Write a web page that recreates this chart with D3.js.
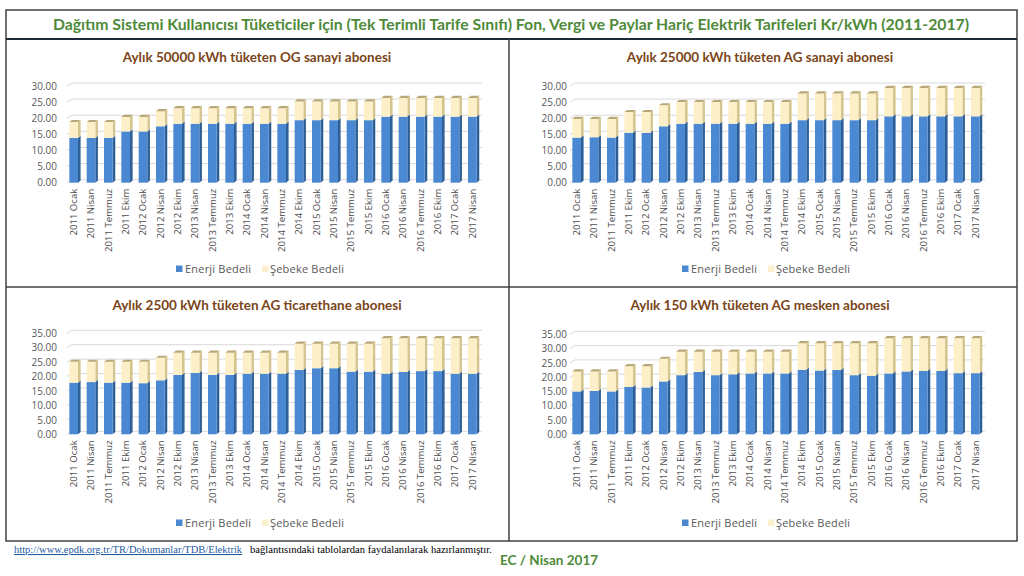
<!DOCTYPE html>
<html>
<head>
<meta charset="utf-8">
<script src="https://cdn.jsdelivr.net/npm/d3@7/dist/d3.min.js"></script>
<style>
  html, body { margin: 0; padding: 0; background: #ffffff; }
  svg { display: block; }
</style>
</head>
<body>
<script>
// ---------------- DATA ----------------
const mainTitle = "Dağıtım Sistemi Kullanıcısı Tüketiciler için (Tek Terimli Tarife Sınıfı) Fon, Vergi ve Paylar Hariç Elektrik Tarifeleri Kr/kWh (2011-2017)";
const categories = ["2011 Ocak","2011 Nisan","2011 Temmuz","2011 Ekim","2012 Ocak","2012 Nisan","2012 Ekim","2013 Nisan","2013 Temmuz","2013 Ekim","2014 Ocak","2014 Nisan","2014 Temmuz","2014 Ekim","2015 Ocak","2015 Nisan","2015 Temmuz","2015 Ekim","2016 Ocak","2016 Nisan","2016 Temmuz","2016 Ekim","2017 Ocak","2017 Nisan"];
const seriesNames = ["Enerji Bedeli", "Şebeke Bedeli"];
const panelTitles = [
  "Aylık 50000 kWh tüketen OG sanayi abonesi",
  "Aylık 25000 kWh tüketen AG sanayi abonesi",
  "Aylık 2500 kWh tüketen AG ticarethane abonesi",
  "Aylık 150 kWh tüketen AG mesken abonesi"
];
const energyOG50000 = [13.9,13.9,13.9,15.9,15.9,17.5,18.3,18.3,18.3,18.3,18.3,18.3,18.3,19.4,19.4,19.4,19.4,19.4,20.5,20.5,20.5,20.5,20.5,20.5];
const networkOG50000 = [4.9,4.9,4.9,4.5,4.5,4.7,4.8,4.8,4.8,4.8,4.8,4.8,4.8,5.8,5.8,5.8,5.8,5.8,5.8,5.8,5.8,5.8,5.8,5.8];
const energyAG25000 = [14.0,14.1,14.0,15.5,15.5,17.5,18.3,18.3,18.3,18.3,18.3,18.3,18.3,19.4,19.4,19.4,19.4,19.4,20.6,20.6,20.6,20.6,20.6,20.6];
const networkAG25000 = [5.8,5.7,5.8,6.4,6.4,6.5,6.7,6.7,6.7,6.7,6.7,6.7,6.7,8.3,8.3,8.3,8.3,8.3,8.8,8.8,8.8,8.8,8.8,8.8];
const energyTicarethane = [17.9,18.1,17.9,17.9,17.7,18.7,20.6,21.3,20.6,20.6,21.0,21.0,21.0,22.3,22.9,22.9,21.7,21.7,21.0,21.6,21.9,21.9,21.0,21.0];
const networkTicarethane = [7.2,7.0,7.2,7.2,7.4,7.8,7.7,7.0,7.7,7.7,7.3,7.3,7.3,9.1,8.5,8.5,9.7,9.7,12.3,11.7,11.4,11.4,12.3,12.3];
const energyMesken = [15.0,15.2,15.0,16.6,16.4,18.5,20.7,21.8,20.7,21.0,21.3,21.3,21.3,22.6,22.3,22.5,20.7,20.5,21.3,22.0,22.2,22.2,21.4,21.4];
const networkMesken = [7.0,6.8,7.0,7.2,7.4,7.9,8.2,7.1,8.2,7.9,7.6,7.6,7.6,9.3,9.6,9.4,11.2,11.4,12.3,11.6,11.4,11.4,12.2,12.2];
const yTicks30 = [0,5,10,15,20,25,30];
const yTicks35 = [0,5,10,15,20,25,30,35];
const footerLink = "http://www.epdk.org.tr/TR/Dokumanlar/TDB/Elektrik";
const footerText = "bağlantısındaki tablolardan faydalanılarak  hazırlanmıştır.";
const footerSign = "EC / Nisan 2017";

// ---------------- LAYOUT ----------------
const W = 1024, H = 576;
const panels = [
  { title: panelTitles[0], energy: energyOG50000, network: networkOG50000, ticks: yTicks30,
    x: 6, y: 39, yTop: 47, yBot: 143.7, labelX: 51, legX: 170, legY: 230 },
  { title: panelTitles[1], energy: energyAG25000, network: networkAG25000, ticks: yTicks30,
    x: 509, y: 39, yTop: 47, yBot: 143.7, labelX: 58, legX: 173, legY: 230 },
  { title: panelTitles[2], energy: energyTicarethane, network: networkTicarethane, ticks: yTicks35,
    x: 6, y: 287, yTop: 46.3, yBot: 147.3, labelX: 51, legX: 170, legY: 236 },
  { title: panelTitles[3], energy: energyMesken, network: networkMesken, ticks: yTicks35,
    x: 509, y: 287, yTop: 47.3, yBot: 147.3, labelX: 58, legX: 173, legY: 236 }
];
const colors = {
  energyFront: "#4a89d2", energySide: "#2d5e96", energyTop: "#3c74b4",
  netFront: "#fdf0c8", netSide: "#d6c48e", netTop: "#b8a878",
  grid: "#d9d9d9", tick: "#595959", cat: "#4d4d4d",
  title: "#7a4519", main: "#4e8a3a", frame: "#404040"
};
const DX = 2.6, DY = -2.2;

const svg = d3.select("body").append("svg").attr("width", W).attr("height", H);
svg.append("rect").attr("width", W).attr("height", H).attr("fill", "#ffffff");

// Frame
svg.append("rect").attr("x", 6).attr("y", 10).attr("width", 1011).attr("height", 531)
  .attr("fill", "none").attr("stroke", colors.frame).attr("stroke-width", 1.5);
svg.append("line").attr("x1", 6).attr("x2", 1017).attr("y1", 39).attr("y2", 39)
  .attr("stroke", "#1f2a38").attr("stroke-width", 2);
svg.append("line").attr("x1", 509).attr("x2", 509).attr("y1", 39).attr("y2", 541)
  .attr("stroke", colors.frame).attr("stroke-width", 1.5);
svg.append("line").attr("x1", 6).attr("x2", 1017).attr("y1", 287).attr("y2", 287)
  .attr("stroke", colors.frame).attr("stroke-width", 1.5);

// Main title
svg.append("text").attr("x", 511).attr("y", 29.5).attr("text-anchor", "middle")
  .attr("font-family", "Lato, 'Open Sans', sans-serif").attr("font-weight", "bold")
  .attr("font-size", 15.8).attr("fill", colors.main).text(mainTitle);

panels.forEach(p => {
  const g = svg.append("g").attr("transform", `translate(${p.x},${p.y})`);
  const ymax = p.ticks[p.ticks.length - 1];
  const y = d3.scaleLinear().domain([0, ymax]).range([p.yBot, p.yTop]);
  const x = d3.scaleBand().domain(categories).range([59, 475]).paddingInner(0.5).paddingOuter(0.25);

  // title
  g.append("text").attr("x", 251).attr("y", 23).attr("text-anchor", "middle")
    .attr("font-family", "Lato, 'Open Sans', sans-serif").attr("font-weight", "bold")
    .attr("font-size", 13.5).attr("fill", colors.title).text(p.title);

  // gridlines (3D back wall)
  g.append("g").selectAll("path").data(p.ticks).join("path")
    .attr("d", t => `M${61},${y(t)} L${61 + 5},${y(t) - 3} H${476}`)
    .attr("fill", "none").attr("stroke", colors.grid).attr("stroke-width", 1);

  // y axis labels
  const ya = g.append("g").attr("transform", `translate(${p.labelX},0)`)
    .call(d3.axisLeft(y).tickValues(p.ticks).tickSize(0).tickPadding(0).tickFormat(d3.format(".2f")));
  ya.select(".domain").remove();
  ya.selectAll("text").attr("font-family", "'Open Sans', sans-serif").attr("font-size", 10)
    .attr("fill", colors.tick);

  // x axis labels
  const xa = g.append("g").attr("transform", `translate(0,${p.yBot + 6})`)
    .call(d3.axisBottom(x).tickSize(0).tickPadding(0));
  xa.select(".domain").remove();
  xa.selectAll("text").attr("transform", "rotate(-90)").attr("text-anchor", "end")
    .attr("x", 0).attr("y", 0).attr("dy", "0.35em")
    .attr("font-family", "'Open Sans', sans-serif").attr("font-size", 9.6).attr("fill", colors.cat);

  // stacked bars
  const rows = categories.map((c, i) => ({ cat: c, energy: p.energy[i], network: p.network[i] }));
  const stacked = d3.stack().keys(["energy", "network"])(rows);
  const bw = x.bandwidth();
  const face = [
    { front: colors.energyFront, side: colors.energySide, top: colors.energyTop },
    { front: colors.netFront, side: colors.netSide, top: colors.netTop }
  ];
  const bars = g.append("g");
  stacked.forEach((layer, li) => {
    const lg = bars.append("g");
    const cols = face[li];
    const items = lg.selectAll("g").data(layer).join("g");
    items.append("path").attr("fill", cols.side)
      .attr("d", d => {
        const x1 = x(d.data.cat) + bw, y0 = y(d[0]), y1 = y(d[1]);
        return `M${x1},${y1} L${x1 + DX},${y1 + DY} L${x1 + DX},${y0 + DY} L${x1},${y0} Z`;
      });
    items.append("rect").attr("fill", cols.front)
      .attr("x", d => x(d.data.cat)).attr("width", bw)
      .attr("y", d => y(d[1])).attr("height", d => y(d[0]) - y(d[1]));
    if (li === stacked.length - 1) {
      items.append("path").attr("fill", cols.top)
        .attr("d", d => {
          const x0 = x(d.data.cat), y1 = y(d[1]);
          return `M${x0},${y1} L${x0 + DX},${y1 + DY} L${x0 + bw + DX},${y1 + DY} L${x0 + bw},${y1} Z`;
        });
    }
  });

  // legend
  const lg = g.append("g").attr("transform", `translate(${p.legX},${p.legY})`);
  lg.append("rect").attr("x", 0).attr("y", -3.5).attr("width", 6.5).attr("height", 6.5).attr("fill", colors.energyFront);
  lg.append("text").attr("x", 9).attr("y", 4).attr("font-family", "'Open Sans', sans-serif")
    .attr("font-size", 11).attr("fill", colors.tick).attr("letter-spacing", 0.2).text(seriesNames[0]);
  lg.append("rect").attr("x", 86).attr("y", -3.5).attr("width", 6.5).attr("height", 6.5).attr("fill", "#fbf0cf");
  lg.append("text").attr("x", 94).attr("y", 4).attr("font-family", "'Open Sans', sans-serif")
    .attr("font-size", 11).attr("fill", colors.tick).attr("letter-spacing", 0.2).text(seriesNames[1]);
});

// Footer
svg.append("text").attr("x", 14).attr("y", 553)
  .attr("font-family", "'Liberation Serif', 'Times New Roman', serif").attr("font-size", 10.5)
  .attr("fill", "#1f5aa0").attr("text-decoration", "underline").text(footerLink);
svg.append("text").attr("x", 250).attr("y", 553)
  .attr("font-family", "'Liberation Serif', 'Times New Roman', serif").attr("font-size", 10.6)
  .attr("fill", "#000000").text(footerText);
svg.append("text").attr("x", 500).attr("y", 565)
  .attr("font-family", "Lato, 'Open Sans', sans-serif").attr("font-weight", "bold")
  .attr("font-size", 13.5).attr("fill", colors.main).text(footerSign);
</script>
</body>
</html>
